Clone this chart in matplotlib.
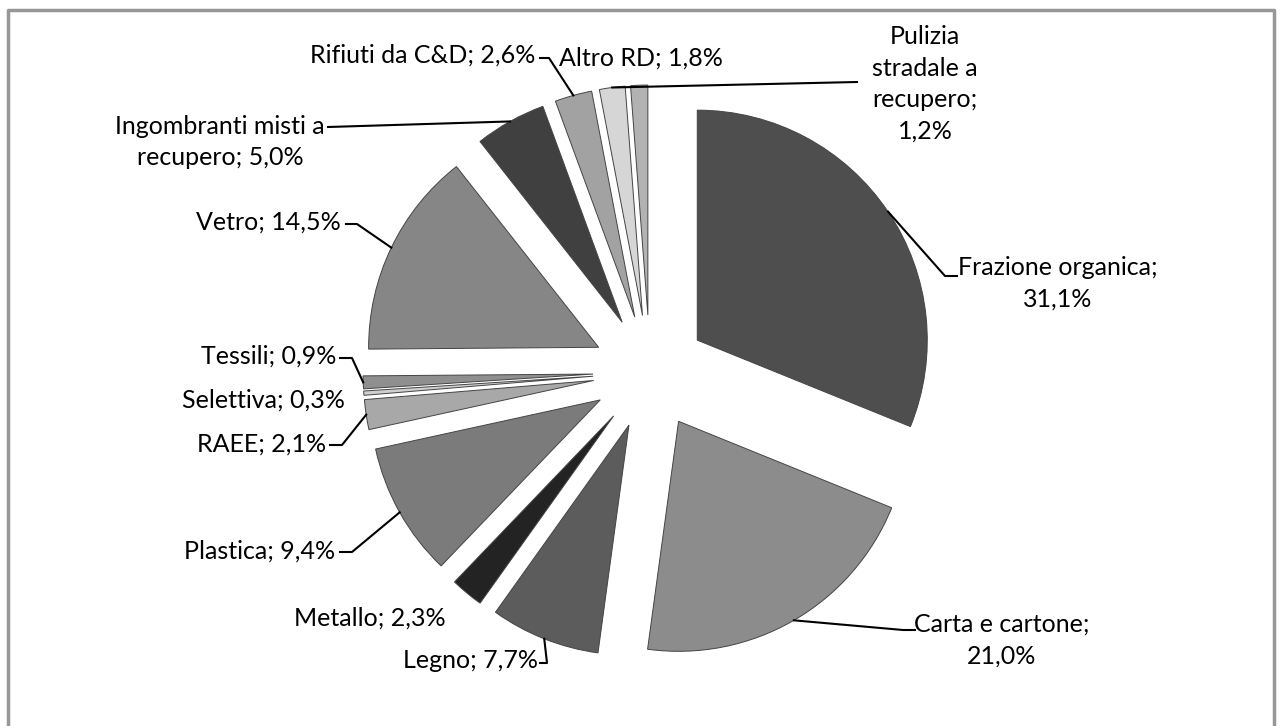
import numpy as np
import matplotlib.pyplot as plt

# figure size in pixels; positions below are given in pixels from the top-left
W, H = 1282, 726

categories = ["Frazione organica", "Carta e cartone", "Legno", "Metallo", "Plastica",
              "RAEE", "Selettiva", "Tessili", "Vetro", "Ingombranti misti a recupero",
              "Rifiuti da C&D", "Altro RD", "Pulizia stradale a recupero"]
values = [31.1, 21.0, 7.7, 2.3, 9.4, 2.1, 0.3, 0.9, 14.5, 5.0, 2.6, 1.8, 1.2]
label_texts = ["Frazione organica;\n31,1%", "Carta e cartone;\n21,0%", "Legno; 7,7%",
               "Metallo; 2,3%", "Plastica; 9,4%", "RAEE; 2,1%", "Selettiva; 0,3%",
               "Tessili; 0,9%", "Vetro; 14,5%", "Ingombranti misti a\nrecupero; 5,0%",
               "Rifiuti da C&D; 2,6%", "Altro RD; 1,8%",
               "Pulizia\nstradale a\nrecupero;\n1,2%"]
colors = ["#4e4e4e", "#8c8c8c", "#5c5c5c", "#232323", "#7b7b7b", "#a8a8a8", "#cfcfcf",
          "#8f8f8f", "#868686", "#404040", "#a2a2a2", "#d6d6d6", "#b2b2b2"]

# label layout: (x, y, ha), leader elbow (or None), leader end at the text (or None)
label_pos = [(1058, 283, "center"), (1002, 640, "center"), (538, 661, "right"),
             (370, 618, "center"), (335, 551, "right"), (326, 444, "right"),
             (345, 400, "right"), (336, 356, "right"), (341, 222, "right"),
             (220, 142, "center"), (535, 55, "right"), (559, 58, "left"),
             (925, 84, "center")]
elbows = [(945, 276), (903, 630), (547, 663), None, (352, 552), (342, 445), None,
          (352, 358), (357, 224), None, (549, 58), None, None]
ends = [(957, 276), (915, 630), (540, 663), None, (340, 552), (330, 445), None,
        (340, 358), (346, 224), (328, 127), (540, 58), None, (857, 82)]
anchor_slice = [0, 1, 2, 3, 4, 5, 6, 7, 8, 9, 10, 11, 11]

plt.rcParams['font.family'] = ['Lato', 'DejaVu Sans']

fig = plt.figure(figsize=(W / 100, H / 100), dpi=100)
ax = fig.add_axes([0, 0, 1, 1])

wedges, _ = ax.pie(values, colors=colors, startangle=90, counterclock=False,
                   radius=230, center=(650, H - 372), explode=[57] * len(values),
                   wedgeprops=dict(edgecolor="#444444", linewidth=0.7))
ax.set_xlim(0, W)
ax.set_ylim(0, H)
ax.set_aspect("equal")
ax.axis("off")

for i, txt in enumerate(label_texts):
    x, y, ha = label_pos[i]
    ax.text(x, H - y, txt, ha=ha, va="center", fontsize=18, color="black",
            linespacing=1.45, multialignment="center")
    if ends[i] is None:
        continue
    w = wedges[anchor_slice[i]]
    tm = np.deg2rad((w.theta1 + w.theta2) / 2)
    ax_, ay_ = w.center[0] + w.r * np.cos(tm), w.center[1] + w.r * np.sin(tm)
    xs, ys = [ax_], [ay_]
    if elbows[i] is not None:
        xs.append(elbows[i][0])
        ys.append(H - elbows[i][1])
    xs.append(ends[i][0])
    ys.append(H - ends[i][1])
    ax.plot(xs, ys, color="black", lw=1.5)

# chart frame (bottom edge is cut off in the original)
ax.plot([8, 8, 1274, 1274], [0, H - 10, H - 10, 0], color="#979797", lw=2.5)

fig.savefig("out.png", dpi=100)
